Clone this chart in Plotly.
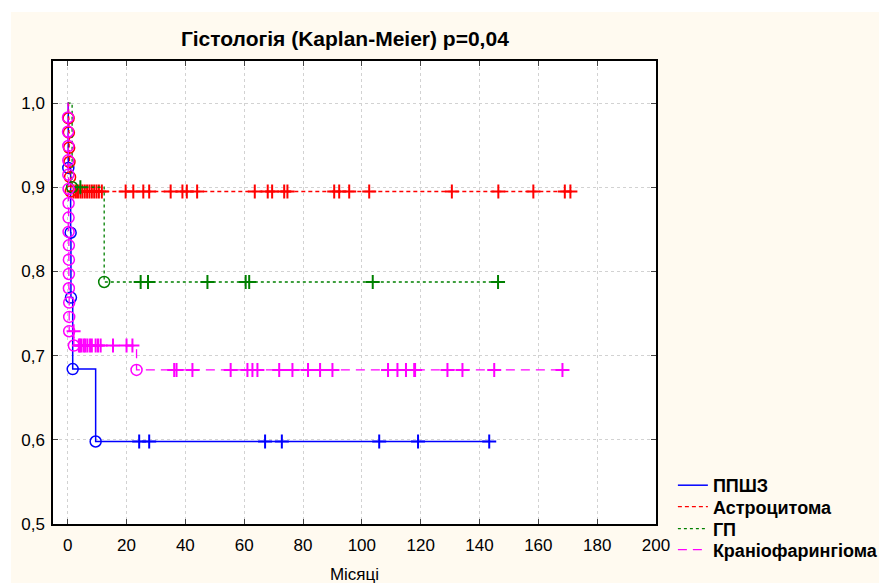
import plotly.graph_objects as go

# ---- data ----
series_names = ["ППШЗ", "Астроцитома", "ГП", "Краніофарингіома"]

ppshz_times = [0.2, 1.0, 1.1, 1.7, 9.5]
ppshz_surv = [0.923, 0.846, 0.769, 0.684, 0.598]
ppshz_cens = [24.3, 27.7, 67.1, 72.8, 105.9, 119.1, 143.3]

astro_times = [0.3, 0.4, 0.5, 0.6, 0.8, 1.0]
astro_surv = [0.982, 0.965, 0.947, 0.930, 0.912, 0.895]
astro_cens = [2.0, 2.8, 3.5, 4.3, 5.0, 5.8, 6.6, 7.4, 8.2, 9.0, 9.8, 10.6, 11.6,
              19.7, 22.3, 25.7, 27.7, 35.0, 39.0, 40.5, 44.0, 63.6, 68.0, 69.5,
              73.6, 74.7, 90.6, 92.3, 95.7, 102.5, 130.6, 146.4, 158.3, 169.0, 170.9]

gp_times = [1.5, 12.4]
gp_surv = [0.9, 0.7875]
gp_cens = [4.3, 24.8, 27.3, 47.5, 60.5, 61.7, 103.7, 146.3]

kranio_times = [0.1, 0.1, 0.2, 0.2, 0.2, 0.3, 0.3, 0.3, 0.3, 0.4, 0.4, 0.4,
                0.4, 0.5, 0.5, 0.5, 2.1, 23.4]
kranio_surv = [0.983, 0.966, 0.949, 0.932, 0.915, 0.898, 0.881, 0.864, 0.847,
               0.831, 0.814, 0.797, 0.780, 0.763, 0.746, 0.729, 0.712, 0.683]
kranio_cens = [2.0, 3.8, 4.2, 4.7, 5.5, 6.0, 6.7, 7.6, 8.2, 9.5, 10.3, 11.2, 15.4,
               20.0, 22.0, 36.2, 37.0, 42.4, 55.4, 61.1, 62.8, 64.5, 71.9, 76.4,
               81.7, 85.8, 90.0, 108.9, 112.1, 115.0, 117.8, 118.1, 129.1, 134.2,
               145.0, 168.2]

x_ticks = [0, 20, 40, 60, 80, 100, 120, 140, 160, 180, 200]
y_ticks = [0.5, 0.6, 0.7, 0.8, 0.9, 1.0]

groups = [
    (series_names[0], ppshz_times, ppshz_surv, ppshz_cens, "#0000FF", "solid", 1.5),
    (series_names[1], astro_times, astro_surv, astro_cens, "#FF0000", "4px,3px", 1.3),
    (series_names[2], gp_times, gp_surv, gp_cens, "#008000", "dot", 1.3),
    (series_names[3], kranio_times, kranio_surv, kranio_cens, "#FF00FF", "9px,6px", 1.3),
]
legend_ids = ["legend", "legend2", "legend3", "legend4"]
legend_rows_px = [485.5, 507, 529, 550]


def level_at(t, times, surv):
    s = 1.0
    for ti, si in zip(times, surv):
        if ti <= t:
            s = si
    return s


fig = go.Figure()
for (name, times, surv, cens, color, dash, lw), lid in zip(groups, legend_ids):
    end_t = max(cens + times)
    xs = [0] + times + [end_t]
    ys = [1.0] + surv + [surv[-1]]
    fig.add_trace(go.Scatter(
        x=xs, y=ys, mode="lines", name=name, line_shape="hv", legend=lid,
        line=dict(color=color, width=lw, dash=dash), hoverinfo="skip"))
    fig.add_trace(go.Scatter(
        x=times, y=surv, mode="markers", showlegend=False,
        marker=dict(symbol="circle-open", size=11, color=color,
                    line=dict(color=color, width=1.5))))
    fig.add_trace(go.Scatter(
        x=cens, y=[level_at(c, times, surv) for c in cens], mode="markers",
        showlegend=False,
        marker=dict(symbol="cross-thin", size=10, color=color,
                    line=dict(color=color, width=2))))

cream = "#FFFAF0"
font_family = "Liberation Sans, Arial, sans-serif"
legend_font = dict(size=18, color="black", family=font_family, weight="bold")

layout_legends = {}
for lid, ypx in zip(legend_ids, legend_rows_px):
    layout_legends[lid] = dict(
        x=1.028, xanchor="left", y=(524 - ypx) / 463, yanchor="middle",
        bgcolor="rgba(0,0,0,0)", font=legend_font, itemwidth=30)

fig.update_layout(
    width=879, height=586,
    margin=dict(l=53, r=223, t=61, b=62, autoexpand=False),
    paper_bgcolor="white",
    plot_bgcolor="white",
    separators=", ",
    font=dict(family=font_family, size=17, color="black"),
    title=dict(text="<b>Гістологія (Kaplan-Meier) p=0,04</b>",
               x=0.484, xref="paper", xanchor="center",
               y=1 - 39 / 586, yref="container", yanchor="middle",
               font=dict(size=21, color="black")),
    showlegend=True,
    shapes=[
        dict(type="rect", xref="paper", yref="paper", layer="below",
             x0=(11 - 53) / 603, x1=(879 - 53) / 603,
             y0=(524 - 583) / 463, y1=(524 - 12) / 463,
             fillcolor=cream, line=dict(width=0)),
        dict(type="rect", xref="x domain", yref="y domain", layer="below",
             x0=0, x1=1, y0=0, y1=1, fillcolor="white", line=dict(width=0)),
    ],
    **layout_legends,
)
fig.update_xaxes(
    range=[-5, 200], tickvals=x_ticks, ticks="inside", ticklen=5,
    showline=True, linecolor="black", linewidth=1.5, mirror="ticks",
    showgrid=True, gridcolor="#D2D2D2", griddash="dot", gridwidth=1,
    zeroline=False, tickfont=dict(size=17), ticklabelstandoff=5,
    automargin=False,
    title=dict(text="Місяці", font=dict(size=17), standoff=14))
fig.update_yaxes(
    range=[0.5, 1.05], tickvals=y_ticks, tickformat=".1f", ticks="inside",
    ticklen=5, showline=True, linecolor="black", linewidth=1.5, mirror="ticks",
    showgrid=True, gridcolor="#D2D2D2", griddash="dot", gridwidth=1,
    zeroline=False, tickfont=dict(size=17), ticklabelstandoff=3,
    automargin=False)

fig.write_html("out.html")
